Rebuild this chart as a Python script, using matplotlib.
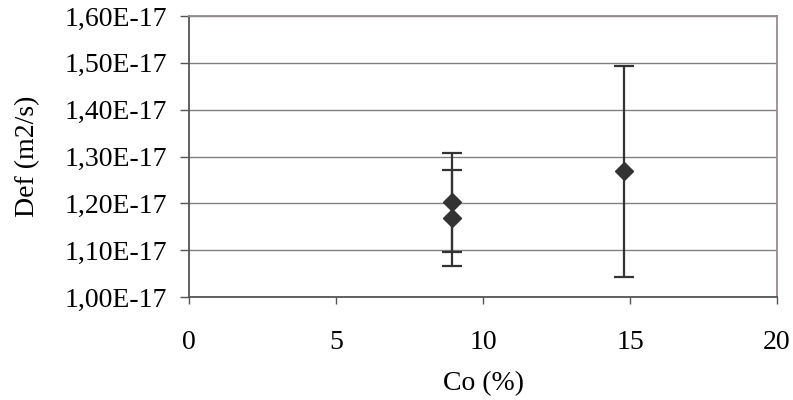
import matplotlib.pyplot as plt
from matplotlib.ticker import FuncFormatter

# data
co = [8.95, 8.95, 14.8]
def_vals = [1.202e-17, 1.169e-17, 1.268e-17]
def_err = [0.105e-17, 0.103e-17, 0.226e-17]

plt.rcParams['font.family'] = ['Liberation Serif', 'DejaVu Serif']

fig = plt.figure(figsize=(7.93, 4.0), dpi=100)
ax = fig.add_axes([189 / 793, 1 - 297 / 400, (777 - 189) / 793, (297 - 16) / 400])

ax.errorbar(co, def_vals, yerr=def_err, fmt='D', color='#333333', ecolor='#333333',
            markersize=9, elinewidth=1.6, capsize=7, capthick=1.6, zorder=3)

ax.set_xlim(0, 20)
ax.set_ylim(1.0e-17, 1.6e-17)
ax.set_xticks([0, 5, 10, 15, 20])
ax.set_yticks([1.0e-17 + i * 0.1e-17 for i in range(7)])
ax.yaxis.set_major_formatter(FuncFormatter(lambda v, p: ('%.2fE-17' % (v / 1e-17)).replace('.', ',')))

ax.yaxis.grid(True, color='#808080', linewidth=1.0)
ax.set_axisbelow(True)

for s in ['left', 'bottom']:
    ax.spines[s].set_color('#555555')
    ax.spines[s].set_linewidth(1.3)
for s in ['top', 'right']:
    ax.spines[s].set_color('#9a8a8a')
    ax.spines[s].set_linewidth(1.3)

ax.tick_params(axis='y', direction='out', length=6.5, width=1, color='#555555',
               labelsize=20, pad=9)
ax.tick_params(axis='x', direction='out', length=5, width=1, color='#555555',
               labelsize=20, pad=19)

ax.set_xlabel('Co (%)', fontsize=20, labelpad=11)
ax.set_ylabel('Def (m2/s)', fontsize=20, labelpad=18)

fig.savefig('out.png', dpi=100, facecolor='white')
